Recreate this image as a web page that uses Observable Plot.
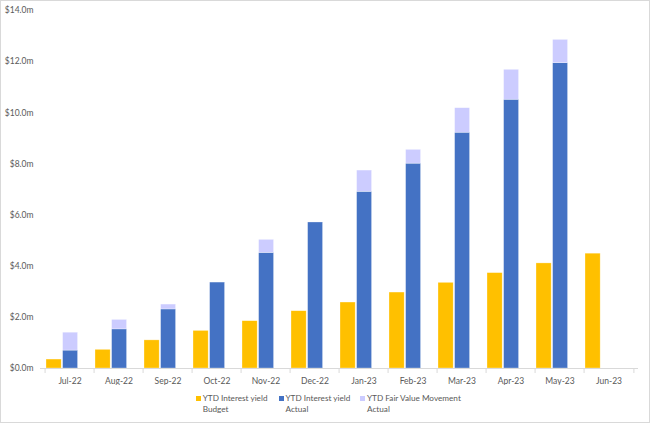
<!DOCTYPE html>
<html>
<head>
<meta charset="utf-8">
<script src="https://cdn.jsdelivr.net/npm/d3@7"></script>
<script src="https://cdn.jsdelivr.net/npm/@observablehq/plot@0.6"></script>
<style>
  html, body { margin: 0; padding: 0; background: #fff; }
  #wrap { position: relative; width: 650px; height: 423px; overflow: hidden; font-family: Lato, "Open Sans", sans-serif; }
  #border { position: absolute; left: 0; top: 0; width: 648px; height: 421px; border: 1px solid #d9d9d9; pointer-events: none; }
  #chart { position: absolute; left: 0; top: 0; }
  .leg { position: absolute; top: 392.5px; font-size: 8.2px; line-height: 11px; color: #595959; white-space: nowrap; }
  .leg .sw { position: absolute; left: -7px; top: 3px; width: 5px; height: 5px; }
</style>
</head>
<body>
<div id="wrap">
  <div id="chart"></div>
  <div id="legend"></div>
  <div id="border"></div>
</div>
<script>
const months = ["Jul-22","Aug-22","Sep-22","Oct-22","Nov-22","Dec-22","Jan-23","Feb-23","Mar-23","Apr-23","May-23","Jun-23"];
const budget = [0.35, 0.73, 1.10, 1.47, 1.85, 2.24, 2.58, 2.97, 3.35, 3.73, 4.11, 4.49];
const actual = [0.70, 1.53, 2.31, 3.36, 4.52, 5.71, 6.91, 8.01, 9.22, 10.51, 11.94, null];
const fairValue = [0.70, 0.37, 0.19, 0, 0.51, 0, 0.83, 0.54, 0.96, 1.17, 0.91, null];
const yTicks = [0, 2, 4, 6, 8, 10, 12, 14];
const seriesNames = ["YTD Interest yield\nBudget", "YTD Interest yield\nActual", "YTD Fair Value Movement\nActual"];
const seriesColors = ["#FFC000", "#4472C4", "#CCCCFF"];

const budgetRows = months.map((m, i) => ({month: m, series: "Budget", value: budget[i]}));
const stackRows = [
  ...months.map((m, i) => ({month: m, series: "Actual", value: actual[i]})),
  ...months.map((m, i) => ({month: m, series: "FV", value: fairValue[i]}))
].filter(d => d.value != null && d.value > 0);

const W = 650, H = 385;
const mL = 40, mR = 12, mT = 10, mB = 17;
const bw = (W - mL - mR) / months.length;

const chart = Plot.plot({
  width: W,
  height: H,
  marginLeft: mL,
  marginRight: mR,
  marginTop: mT,
  marginBottom: mB,
  style: {fontFamily: "Lato, 'Open Sans', sans-serif", fontSize: "8.5px", color: "#595959", background: "transparent"},
  x: {domain: months, padding: 0, label: null},
  y: {domain: [0, 14], label: null},
  color: {domain: ["Budget", "Actual", "FV"], range: seriesColors},
  marks: [
    Plot.barY(budgetRows, {x: "month", y: "value", fill: "series", insetLeft: 1, insetRight: bw - 17, stroke: "#fff", strokeWidth: 0.6, strokeOpacity: 0.5}),
    Plot.barY(stackRows, {x: "month", y: "value", fill: "series", insetLeft: 17.6, insetRight: bw - 33.4, stroke: "#fff", strokeWidth: 0.6, strokeOpacity: 0.5}),
    Plot.ruleY([0], {stroke: "#d9d9d9"}),
    Plot.ruleX(months, {x: d => d, dx: -bw / 2, y1: 0, y2: 0, insetBottom: -5, stroke: "#d9d9d9"}),
    Plot.ruleX(months.slice(-1), {x: d => d, dx: bw / 2, y1: 0, y2: 0, insetBottom: -5, stroke: "#d9d9d9"}),
    Plot.axisX({tickSize: 0, tickPadding: 9, fill: "#595959", label: null}),
    Plot.axisY(yTicks, {tickSize: 0, tickPadding: 7, tickFormat: d => `$${d.toFixed(1)}m`, fill: "#595959", label: null})
  ]
});
document.getElementById("chart").appendChild(chart);

const legend = document.getElementById("legend");
const legLeft = [202.7, 285.5, 367];
seriesNames.forEach((name, i) => {
  const div = document.createElement("div");
  div.className = "leg";
  div.style.left = legLeft[i] + "px";
  const sw = document.createElement("span");
  sw.className = "sw";
  sw.style.background = seriesColors[i];
  div.appendChild(sw);
  name.split("\n").forEach((line, j) => {
    if (j > 0) div.appendChild(document.createElement("br"));
    div.appendChild(document.createTextNode(line));
  });
  legend.appendChild(div);
});
</script>
</body>
</html>
